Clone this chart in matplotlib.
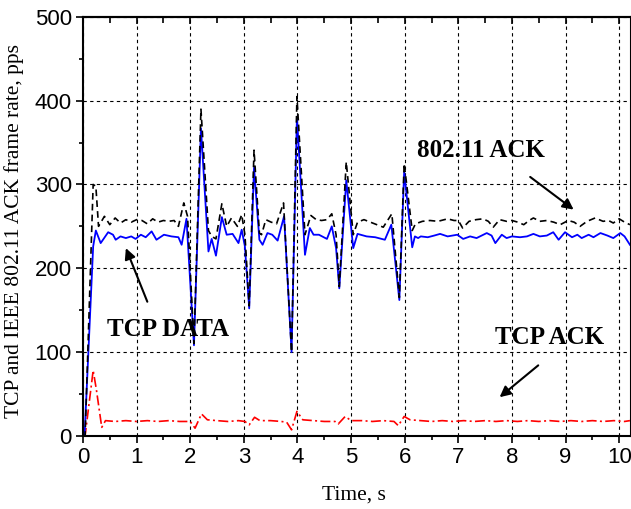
import matplotlib
matplotlib.use('Agg')
import matplotlib.pyplot as plt
from matplotlib import font_manager
from matplotlib.ticker import MultipleLocator

# TCP DATA frame rate (blue, solid)
data_t = [0.00, 0.03, 0.19, 0.24, 0.33, 0.47, 0.56, 0.61, 0.70, 0.80, 0.90, 0.98,
          1.08, 1.17, 1.28, 1.37, 1.51, 1.65, 1.78, 1.84, 1.93, 2.07, 2.20, 2.34,
          2.40, 2.48, 2.59, 2.68, 2.79, 2.90, 2.96, 3.02, 3.10, 3.19, 3.29, 3.35,
          3.44, 3.53, 3.63, 3.75, 3.89, 3.99, 4.14, 4.23, 4.30, 4.40, 4.55, 4.64,
          4.72, 4.78, 4.91, 5.04, 5.12, 5.29, 5.45, 5.63, 5.75, 5.90, 5.99, 6.14,
          6.19, 6.25, 6.30, 6.43, 6.55, 6.66, 6.80, 6.98, 7.09, 7.22, 7.34, 7.53,
          7.62, 7.69, 7.81, 7.90, 8.00, 8.15, 8.28, 8.40, 8.52, 8.65, 8.77, 8.87,
          8.99, 9.12, 9.22, 9.30, 9.43, 9.52, 9.65, 9.78, 9.89, 10.02, 10.10, 10.20]
data_v = [0, 0, 226, 245, 230, 243, 240, 234, 238, 236, 238, 235,
          240, 237, 244, 234, 240, 238, 237, 228, 259, 108, 367, 220,
          235, 215, 261, 240, 241, 230, 246, 226, 152, 320, 234, 228,
          242, 240, 233, 262, 100, 381, 216, 248, 240, 240, 235, 250,
          224, 176, 305, 224, 241, 238, 237, 234, 252, 162, 315, 225,
          238, 236, 238, 237, 239, 241, 238, 240, 235, 238, 236, 242,
          239, 230, 240, 236, 238, 237, 238, 241, 238, 239, 243, 234,
          243, 237, 240, 236, 240, 237, 242, 239, 236, 242, 238, 228]

# 802.11 ACK frame rate (black, dashed)
mac_t = [0.00, 0.04, 0.19, 0.24, 0.29, 0.40, 0.50, 0.60, 0.70, 0.80, 0.90, 1.00,
         1.10, 1.20, 1.30, 1.40, 1.50, 1.60, 1.70, 1.78, 1.88, 1.95, 2.07, 2.20,
         2.34, 2.40, 2.48, 2.59, 2.68, 2.77, 2.88, 2.96, 3.02, 3.10, 3.19, 3.29,
         3.33, 3.41, 3.51, 3.61, 3.74, 3.89, 3.99, 4.14, 4.25, 4.35, 4.45, 4.55,
         4.64, 4.72, 4.78, 4.91, 5.04, 5.12, 5.24, 5.36, 5.48, 5.60, 5.76, 5.90,
         5.99, 6.14, 6.20, 6.33, 6.47, 6.62, 6.80, 6.92, 7.00, 7.08, 7.20, 7.33,
         7.46, 7.56, 7.65, 7.77, 7.90, 8.00, 8.11, 8.22, 8.32, 8.40, 8.52, 8.65,
         8.78, 8.90, 9.05, 9.16, 9.27, 9.40, 9.55, 9.70, 9.80, 9.89, 10.00, 10.10,
         10.20]
mac_v = [0, 0, 300, 298, 250, 262, 252, 260, 254, 258, 255, 258,
         257, 253, 259, 255, 257, 256, 257, 250, 278, 262, 110, 390,
         245, 238, 235, 277, 250, 260, 250, 264, 240, 155, 341, 242,
         240, 258, 255, 253, 278, 100, 405, 240, 263, 258, 257, 258,
         265, 240, 178, 327, 240, 255, 258, 255, 252, 249, 265, 165,
         325, 245, 253, 256, 257, 256, 259, 257, 257, 248, 256, 258,
         259, 256, 249, 258, 256, 257, 255, 252, 257, 260, 256, 257,
         255, 252, 257, 255, 250, 256, 260, 256, 257, 254, 259, 255,
         252]

# TCP ACK frame rate (red, dash-dot)
ack_t = [0.00, 0.04, 0.19, 0.25, 0.35, 0.42, 0.60, 0.80, 1.00, 1.20, 1.40, 1.60,
         1.80, 2.00, 2.09, 2.21, 2.32, 2.50, 2.70, 2.90, 3.02, 3.10, 3.20, 3.30,
         3.50, 3.70, 3.80, 3.89, 3.99, 4.10, 4.30, 4.50, 4.70, 4.76, 4.89, 5.00,
         5.20, 5.40, 5.60, 5.80, 5.88, 5.99, 6.10, 6.30, 6.50, 6.70, 6.90, 7.10,
         7.30, 7.50, 7.70, 7.90, 8.10, 8.30, 8.50, 8.70, 8.90, 9.10, 9.30, 9.50,
         9.70, 9.90, 10.10, 10.20]
ack_v = [0, 0, 78, 55, 10, 18, 17, 18, 17, 18, 17, 18,
         17, 17, 9, 26, 19, 18, 17, 18, 17, 13, 22, 18,
         18, 17, 16, 7, 29, 19, 18, 17, 17, 14, 23, 18,
         18, 17, 18, 17, 12, 23, 19, 18, 17, 18, 17, 18,
         17, 18, 17, 18, 17, 18, 17, 18, 17, 18, 17, 18,
         17, 18, 17, 18]

SERIF = 'Liberation Serif'
# tick numbers in the reference look like a condensed Arial
installed = {f.name for f in font_manager.fontManager.ttflist}
if 'Liberation Sans Narrow' in installed:
    SANS, TICK_SIZE = 'Liberation Sans Narrow', 19
else:
    SANS, TICK_SIZE = 'Liberation Sans', 16

fig = plt.figure(figsize=(6.31, 5.09), dpi=100)
ax = fig.add_axes([0.1315, 0.144, 0.8685, 0.8226])

ax.plot(ack_t, ack_v, color='red', lw=1.2, dashes=(6, 2, 1.2, 2))
ax.plot(data_t, data_v, color='blue', lw=1.3)
ax.plot(mac_t, mac_v, color='black', lw=1.2, dashes=(4, 2.5))

ax.set_xlim(0, 10.22)
ax.set_ylim(0, 500)
ax.xaxis.set_major_locator(MultipleLocator(1))
ax.xaxis.set_minor_locator(MultipleLocator(0.5))
ax.yaxis.set_major_locator(MultipleLocator(100))
ax.yaxis.set_minor_locator(MultipleLocator(50))
ax.grid(True, which='major', color='black', lw=0.8, ls=(0, (3, 3)))
ax.set_axisbelow(True)

ax.tick_params(which='both', direction='out', top=False, right=False, width=1.2)
ax.tick_params(which='major', length=5, labelsize=TICK_SIZE, pad=3)
ax.tick_params(which='minor', length=3)
# inward ticks along the top edge
sec = ax.secondary_xaxis('top')
sec.xaxis.set_major_locator(MultipleLocator(1))
sec.xaxis.set_minor_locator(MultipleLocator(0.5))
sec.tick_params(which='both', direction='in', labeltop=False, width=1.2)
sec.tick_params(which='major', length=5)
sec.tick_params(which='minor', length=4)
sec.spines['top'].set_linewidth(1.5)
for lbl in ax.get_xticklabels() + ax.get_yticklabels():
    lbl.set_fontfamily(SANS)
for sp in ax.spines.values():
    sp.set_linewidth(1.5)

ax.set_xlabel('Time, s', fontfamily=SERIF, fontsize=15.5)
ax.set_ylabel('TCP and IEEE 802.11 ACK frame rate, pps', fontfamily=SERIF, fontsize=15.5)
ax.xaxis.set_label_coords(0.494, -0.12)
ax.yaxis.set_label_coords(-0.108, 0.49)

arrow = dict(arrowstyle='-|>', color='black', lw=1.5, mutation_scale=16, shrinkA=0, shrinkB=0)
ax.text(7.43, 341, '802.11 ACK', fontfamily=SERIF, fontweight='bold', fontsize=18,
        ha='center', va='center')
ax.annotate('', xy=(9.15, 270), xytext=(8.34, 309), arrowprops=arrow)
ax.text(1.58, 127, 'TCP DATA', fontfamily=SERIF, fontweight='bold', fontsize=18,
        ha='center', va='center')
ax.annotate('', xy=(0.80, 224), xytext=(1.20, 160), arrowprops=arrow)
ax.text(8.71, 117, 'TCP ACK', fontfamily=SERIF, fontweight='bold', fontsize=18,
        ha='center', va='center')
ax.annotate('', xy=(7.77, 46), xytext=(8.49, 84), arrowprops=arrow)

fig.savefig('out.png', dpi=100)
